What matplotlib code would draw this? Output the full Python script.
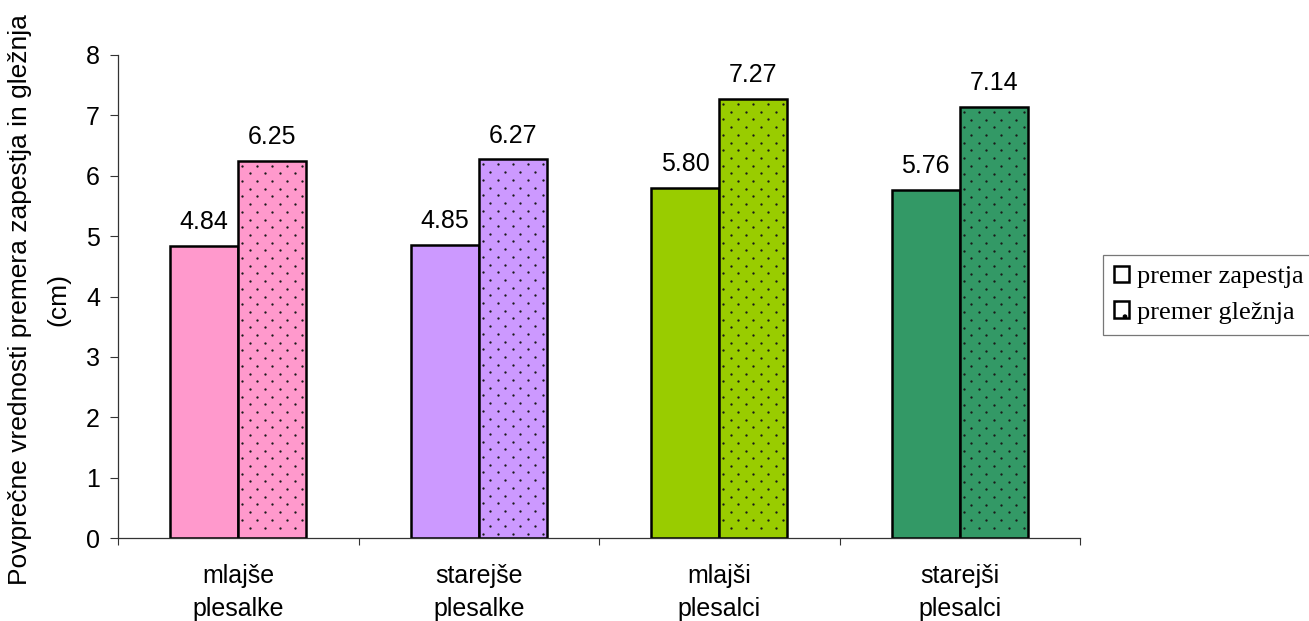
import numpy as np
import matplotlib.pyplot as plt
from matplotlib.patches import Patch

groups = ['mlajše\nplesalke', 'starejše\nplesalke', 'mlajši\nplesalci', 'starejši\nplesalci']
wrist = [4.84, 4.85, 5.80, 5.76]
ankle = [6.25, 6.27, 7.27, 7.14]
colors = ['#FF99CC', '#CC99FF', '#99CC00', '#339966']
series = ['premer zapestja', 'premer gležnja']
ylabel_lines = ['Povprečne vrednosti premera zapestja in gležnja', '(cm)']

W, H = 1309, 621
plt.rcParams['font.family'] = ['Liberation Sans', 'DejaVu Sans']

fig = plt.figure(figsize=(W / 100, H / 100), dpi=100)
ax = fig.add_axes([118 / W, 83 / H, 962 / W, 483 / H])
ax.set_xlim(-0.5, len(groups) - 0.5)
ax.set_ylim(0, 8)

# pixels per data unit, used for the dotted texture
px_x = 962 / len(groups)
px_y = 483 / 8


def dot_texture(x0, x1, top, step_x=15.0, step_y=7.7, pad=3):
    w = (x1 - x0) * px_x
    h = top * px_y
    xs, ys = [], []
    y = pad + 2
    row = 0
    while y < h - pad:
        x = 4 if row % 2 == 0 else 4 + step_x / 2
        while x < w - pad:
            xs.append(x0 + x / px_x)
            ys.append(top - y / px_y)
            x += step_x
        y += step_y
        row += 1
    return xs, ys


bw = 0.283
x = np.arange(len(groups))
for i in range(len(groups)):
    ax.bar(x[i] - bw / 2, wrist[i], bw, color=colors[i], edgecolor='black', linewidth=1.8, zorder=2)
    ax.bar(x[i] + bw / 2, ankle[i], bw, color=colors[i], edgecolor='black', linewidth=1.8, zorder=2)
    dx, dy = dot_texture(x[i], x[i] + bw, ankle[i])
    ax.scatter(dx, dy, s=2.8, color='#1a1a1a', marker='o', linewidths=0, zorder=3)
    ax.text(x[i] - bw / 2, wrist[i] + 0.28, f'{wrist[i]:.2f}', ha='center', va='baseline', fontsize=18)
    ax.text(x[i] + bw / 2, ankle[i] + 0.28, f'{ankle[i]:.2f}', ha='center', va='baseline', fontsize=18)

for s in ['top', 'right']:
    ax.spines[s].set_visible(False)
for s in ['left', 'bottom']:
    ax.spines[s].set_color('#333333')
    ax.spines[s].set_linewidth(0.9)

ax.set_yticks(range(9))
ax.tick_params(axis='y', labelsize=18, length=6, color='#333333', pad=7)
ax.set_xticks(np.arange(-0.5, len(groups)))
ax.set_xticklabels([])
ax.tick_params(axis='x', which='major', length=5, color='#333333')
ax.set_xticks(x, minor=True)
ax.set_xticklabels(groups, minor=True, fontsize=18, linespacing=1.45)
ax.tick_params(axis='x', which='minor', length=0, pad=19)

# two-line axis title, drawn as separate rotated lines
fig.text(20 / W, 1 - 300 / H, ylabel_lines[0], rotation=90, ha='center', va='center', fontsize=19)
fig.text(58 / W, 1 - 300 / H, ylabel_lines[1], rotation=90, ha='center', va='center', fontsize=19)

handles = [Patch(facecolor='white', edgecolor='black', linewidth=1.8),
           Patch(facecolor='white', edgecolor='black', linewidth=1.8, hatch='.')]
leg = fig.legend(handles, series, loc='upper left', bbox_to_anchor=(1103 / W, 1 - 255 / H),
                 prop={'family': 'Liberation Serif', 'size': 19}, frameon=True, fancybox=False,
                 edgecolor='#555555', handlelength=0.6, handleheight=0.6, handletextpad=0.3,
                 borderaxespad=0, borderpad=0.4, labelspacing=0.5)
leg.get_frame().set_linewidth(0.9)

fig.savefig('out.png', dpi=100)
